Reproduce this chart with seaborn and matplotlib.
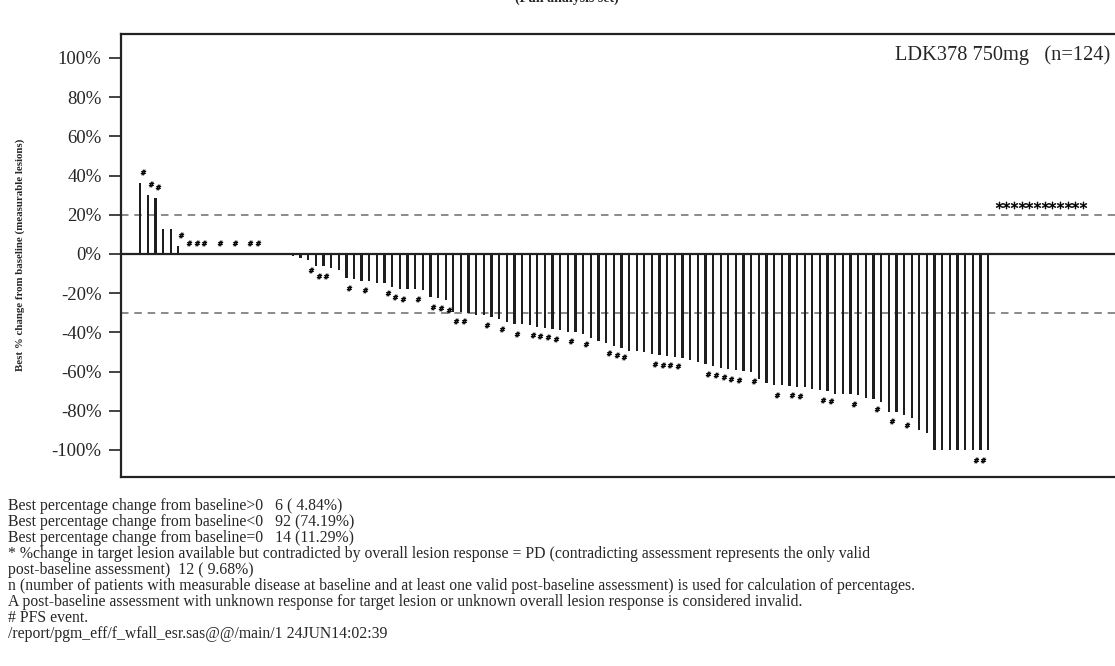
import numpy as np
import pandas as pd
import matplotlib
matplotlib.use("Agg")
import matplotlib.pyplot as plt
import seaborn as sns

# ---------------- data ----------------
best_change = [
    36.4, 30.1, 28.7, 12.8, 12.8, 4.1,
    0, 0, 0, 0, 0, 0, 0, 0, 0, 0, 0, 0, 0, 0,
    -1.0, -2.2, -3.1, -6.3, -6.3, -7.3, -8.2, -12.4, -12.9, -13.6, -13.6,
    -15.0, -15.0, -17.0, -18.0, -18.0, -18.0, -18.4, -22.1, -22.6, -23.5, -29.4,
    -29.4, -30.3, -31.1, -31.1, -32.0, -33.2, -34.9, -35.9, -35.9, -36.2, -37.1,
    -37.6, -38.3, -38.8, -39.6, -40.0, -41.0, -42.7, -44.4, -45.6, -46.8, -47.8,
    -49.5, -49.7,
    -49.9, -51.2, -51.5, -51.9, -52.4, -52.9, -54.1, -55.3, -56.3, -57.0, -58.0,
    -58.7, -59.2, -59.7, -60.0, -63.8, -66.0, -66.8, -66.8, -67.2, -67.7, -67.7, -68.9,
    -69.4, -69.9, -71.6, -71.6, -71.6, -71.9, -73.6, -74.0, -75.3, -80.4, -80.4,
    -82.1, -83.8, -89.8, -91.5, -100, -100, -100, -100, -100, -100, -100, -100,
]
pfs_event_idx = [0, 1, 2, 5, 6, 7, 8, 10, 12, 14, 15, 22, 23, 24, 27, 29, 32, 33, 34,
                 36, 38, 39, 40, 41, 42, 45, 47, 49, 51, 52, 53, 54, 56, 58, 61, 62, 63,
                 67, 68, 69, 70, 74, 75, 76, 77, 78, 80, 83, 85, 86, 89, 90, 93, 96, 98,
                 100, 109, 110]
n_contradicted = 12
contradicted_level = 25
ref_lines = [20, -30]
y_ticks = [-100, -80, -60, -40, -20, 0, 20, 40, 60, 80, 100]
y_tick_labels = [f"{t}%" for t in y_ticks]
panel_label = "LDK378 750mg   (n=124)"
title_text = "(Full analysis set)"
y_label = "Best % change from baseline (measurable lesions)"
footnotes = [
    "Best percentage change from baseline>0   6 ( 4.84%)",
    "Best percentage change from baseline<0   92 (74.19%)",
    "Best percentage change from baseline=0   14 (11.29%)",
    "* %change in target lesion available but contradicted by overall lesion response = PD (contradicting assessment represents the only valid",
    "post-baseline assessment)  12 ( 9.68%)",
    "n (number of patients with measurable disease at baseline and at least one valid post-baseline assessment) is used for calculation of percentages.",
    "A post-baseline assessment with unknown response for target lesion or unknown overall lesion response is considered invalid.",
    "# PFS event.",
    "/report/pgm_eff/f_wfall_esr.sas@@/main/1 24JUN14:02:39",
]

# ---------------- frames ----------------
n_bars = len(best_change)
df = pd.DataFrame({"patient": np.arange(n_bars), "change": best_change})
pfs = df.loc[pfs_event_idx].copy()
pfs["ypos"] = np.where(pfs["change"] >= 0, pfs["change"] + 5.5, pfs["change"] - 5.0)
contra = pd.DataFrame({"patient": np.arange(n_bars, n_bars + n_contradicted),
                       "ypos": [contradicted_level] * n_contradicted})

# ---------------- plot ----------------
sns.set_theme(style="white")
plt.rcParams["font.family"] = ["Liberation Serif", "DejaVu Serif"]

W, H = 1115, 666
fig = plt.figure(figsize=(W / 100, H / 100), dpi=100)
ax_left, ax_right, ax_top, ax_bottom = 121, 1125, 34, 477
ax = fig.add_axes([ax_left / W, 1 - ax_bottom / H, (ax_right - ax_left) / W,
                   (ax_bottom - ax_top) / H])

for yv in ref_lines:
    ax.axhline(yv, color="#777777", lw=1.2, ls=(0, (4.5, 3.5)), zorder=0)
ax.axhline(0, color="#222222", lw=1.6, zorder=3)

sns.barplot(data=df, x="patient", y="change", native_scale=True, width=0.3,
            color="#1e1e1e", saturation=1, errorbar=None, linewidth=0, ax=ax, zorder=2)

dx = 0.4
sns.scatterplot(x=pfs["patient"] + dx, y=pfs["ypos"], marker="$\\#$", s=14,
                color="black", edgecolor="black", linewidth=0.4, ax=ax, zorder=4)
sns.scatterplot(x=contra["patient"] + dx, y=contra["ypos"], marker="$*$", s=26,
                color="black", edgecolor="black", linewidth=0.4, ax=ax, zorder=4)

ax.set_xlim(-2.5, (ax_right - 140) / 7.64)
ax.set_ylim(-113.8, 112.2)
ax.set_xticks([])
ax.set_yticks(y_ticks)
ax.set_yticklabels(y_tick_labels, fontsize=13.5)
ax.tick_params(axis="y", direction="out", length=9, width=1.2, color="#222222",
               left=True, pad=5)
ax.set_xlabel("")
ax.set_ylabel("")
for side in ["left", "top", "bottom", "right"]:
    ax.spines[side].set_visible(True)
    ax.spines[side].set_color("#222222")
    ax.spines[side].set_linewidth(1.6)

fig.text(1110 / W, 1 - 55 / H, panel_label, fontsize=14.7, ha="right", va="center")

fig.text(20 / W, 1 - 255 / H, y_label, rotation=90, fontsize=7.8, fontweight="bold",
         ha="center", va="center")
fig.text(567 / W, 1 - 2 / H, title_text, fontsize=10, fontweight="bold",
         ha="center", va="baseline")

y0 = 506
for i, line in enumerate(footnotes):
    fig.text(8 / W, 1 - (y0 + i * 16) / H, line, fontsize=11.3, ha="left", va="center")

fig.savefig("out.png", dpi=100)
